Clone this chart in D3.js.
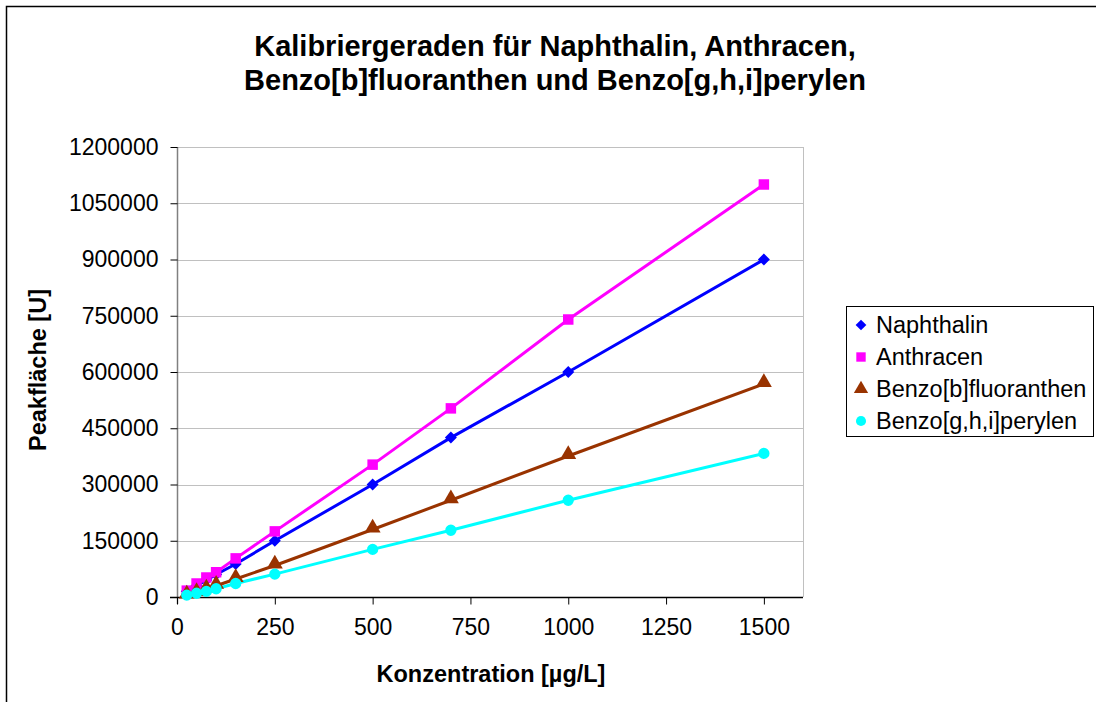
<!DOCTYPE html>
<html>
<head>
<meta charset="utf-8">
<script src="https://cdn.jsdelivr.net/npm/d3@7/dist/d3.min.js"></script>
<style>
  html, body { margin: 0; padding: 0; background: #fff; }
  svg { display: block; }
</style>
</head>
<body>
<div id="chart"></div>
<script>
// Calibration data.
var concentrations = [25, 50, 75, 100, 150, 250, 500, 700, 1000, 1500];
var naphthalin    = [15000, 30000, 45000, 60000, 88000, 150000, 300000, 425000, 600000, 900000];
var anthracen     = [17000, 36000, 52000, 66000, 103000, 175000, 353000, 503000, 740000, 1100000];
var benzoB        = [4000, 11000, 20000, 30000, 48000, 84000, 180000, 258000, 376000, 568000];
var benzoGHI      = [5000, 10000, 15000, 22000, 36000, 61000, 127000, 178000, 258000, 383000];
var seriesNames   = ["Naphthalin", "Anthracen", "Benzo[b]fluoranthen", "Benzo[g,h,i]perylen"];
var xTicks = [0, 250, 500, 750, 1000, 1250, 1500];
var yTicks = [0, 150000, 300000, 450000, 600000, 750000, 900000, 1050000, 1200000];
var titleLines = ["Kalibriergeraden für Naphthalin, Anthracen,",
                  "Benzo[b]fluoranthen und Benzo[g,h,i]perylen"];

var width = 1096,
    height = 702,
    fontFamily = "'Liberation Sans', Arial, sans-serif";

var plot = {left: 177, right: 803, top: 147, bottom: 597};

var colors  = ["#0000ff", "#ff00ff", "#993300", "#00ffff"],
    symbols = [d3.symbolSquare, d3.symbolSquare, d3.symbolTriangle, d3.symbolCircle],
    rotate  = [45, 0, 0, 0],              // Excel's diamond is a square turned by 45 degrees.
    sizes   = [72, 110, 110, 100];

var values = [naphthalin, anthracen, benzoB, benzoGHI];

var svg = d3.select("#chart").append("svg")
            .attr("width", width)
            .attr("height", height);

// Outer chart border (goes past the bottom of the picture).
svg.append("rect")
   .attr("x", 6.5).attr("y", 6.5)
   .attr("width", 1100).attr("height", 760)
   .style("fill", "none")
   .style("stroke", "#000")
   .style("stroke-width", 1.5);

var x = d3.scaleLinear().domain([0, 1600]).range([plot.left, plot.right]);
var y = d3.scaleLinear().domain([0, 1200000]).range([plot.bottom, plot.top]);

// Title
svg.append("text")
   .attr("text-anchor", "middle")
   .attr("font-family", fontFamily)
   .attr("font-weight", "bold")
   .attr("font-size", 29)
   .selectAll("tspan").data(titleLines).enter().append("tspan")
   .attr("x", 555)
   .attr("y", function(d, i) { return 56 + i * 34; })
   .text(function(d) { return d; });

// Horizontal gridlines
svg.append("g").selectAll("line").data(yTicks).enter().append("line")
   .attr("x1", plot.left).attr("x2", plot.right)
   .attr("y1", function(d) { return Math.round(y(d)) + 0.5; })
   .attr("y2", function(d) { return Math.round(y(d)) + 0.5; })
   .style("stroke", "#c0c0c0")
   .style("stroke-width", 1);

// Plot area right edge
svg.append("line")
   .attr("x1", plot.right + 0.5).attr("x2", plot.right + 0.5)
   .attr("y1", plot.top).attr("y2", plot.bottom)
   .style("stroke", "#c0c0c0");

// Y axis
var yAxis = svg.append("g")
   .attr("transform", "translate(" + (plot.left + 0.5) + ",0)")
   .call(d3.axisLeft(y).tickValues(yTicks).tickSize(7).tickPadding(12).tickFormat(d3.format("d")));
yAxis.select(".domain").attr("d", "M0," + (plot.top) + "V" + (plot.bottom + 7)).style("stroke", "#808080").style("stroke-width", 1.5);
yAxis.selectAll(".tick line").style("stroke", "#000");
yAxis.selectAll(".tick text")
     .attr("font-family", fontFamily)
     .attr("font-size", 23)
     .attr("fill", "#000");

// X axis
var xAxis = svg.append("g")
   .attr("transform", "translate(0," + (plot.bottom + 0.5) + ")")
   .call(d3.axisBottom(x).tickValues(xTicks).tickSize(7).tickPadding(14).tickFormat(d3.format("d")));
xAxis.select(".domain").attr("d", "M" + (plot.left - 7) + ",0H" + plot.right).style("stroke", "#000").style("stroke-width", 1.5);
xAxis.selectAll(".tick text")
     .attr("font-family", fontFamily)
     .attr("font-size", 23)
     .attr("fill", "#000");

// Axis titles
svg.append("text")
   .attr("x", 491).attr("y", 682)
   .attr("text-anchor", "middle")
   .attr("font-family", fontFamily)
   .attr("font-weight", "bold")
   .attr("font-size", 23.5)
   .text("Konzentration [µg/L]");

svg.append("text")
   .attr("transform", "translate(46,370) rotate(-90)")
   .attr("text-anchor", "middle")
   .attr("font-family", fontFamily)
   .attr("font-weight", "bold")
   .attr("font-size", 23.5)
   .text("Peakfläche [U]");

// Lines and markers
var line = d3.line()
  .x(function(d, i) { return x(concentrations[i]); })
  .y(function(d) { return y(d); });

values.forEach(function(vals, s) {
  svg.append("path")
     .attr("d", line(vals))
     .style("fill", "none")
     .style("stroke", colors[s])
     .style("stroke-width", 3);
});

values.forEach(function(vals, s) {
  svg.append("g").selectAll("path").data(vals).enter().append("path")
     .attr("transform", function(d, i) {
        var dy = symbols[s] === d3.symbolTriangle ? -1.5 : 0;
        return "translate(" + x(concentrations[i]) + "," + (y(d) + dy) + ") rotate(" + rotate[s] + ")";
     })
     .attr("d", d3.symbol().type(symbols[s]).size(sizes[s]))
     .style("fill", colors[s]);
});

// Legend
var legend = svg.append("g");
legend.append("rect")
      .attr("x", 846.5).attr("y", 306.5)
      .attr("width", 247).attr("height", 130)
      .style("fill", "#fff")
      .style("stroke", "#000")
      .style("stroke-width", 1);

seriesNames.forEach(function(name, i) {
  var ly = 325 + i * 32;
  legend.append("path")
        .attr("transform", "translate(861," + ly + ") rotate(" + rotate[i] + ")")
        .attr("d", d3.symbol().type(symbols[i]).size(sizes[i] * 0.8))
        .style("fill", colors[i]);
  legend.append("text")
        .attr("x", 876).attr("y", ly)
        .attr("dy", "0.36em")
        .attr("font-family", fontFamily)
        .attr("font-size", 23.5)
        .text(name);
});
</script>
</body>
</html>
